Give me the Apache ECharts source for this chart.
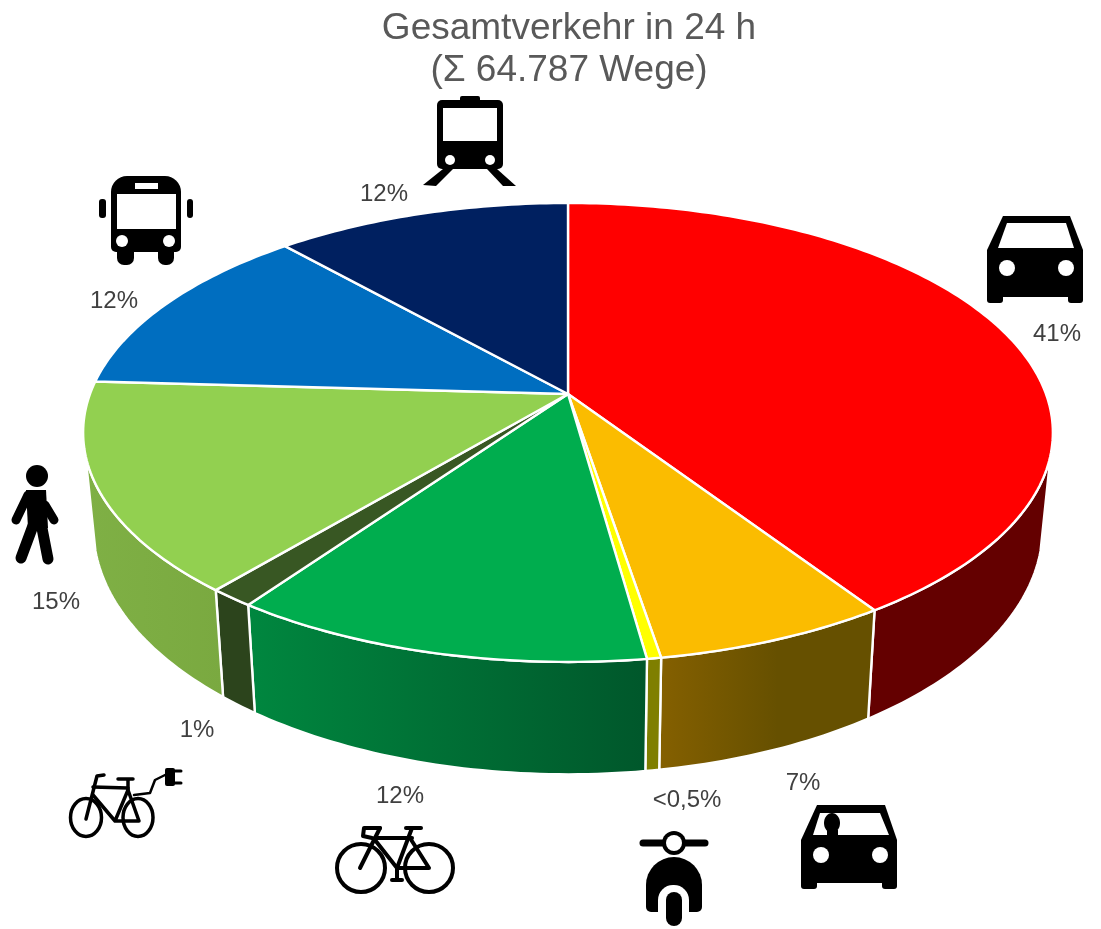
<!DOCTYPE html>
<html><head><meta charset="utf-8">
<style>html,body{margin:0;padding:0;background:#fff}#c{width:1101px;height:929px}</style>
<script src="https://cdn.jsdelivr.net/npm/echarts@6/dist/echarts.min.js"></script>
</head><body><div id="c"></div>
<script>
// ---- data ----
const categories = ['Pkw Mitfahrer-frei','Pkw Mitfahrer','Motorrad','Fahrrad','Pedelec','Zu Fuß','Bus','Bahn'];
const shares = [40.7, 6.7, 0.4, 12.0, 1.3, 14.8, 12.5, 11.6];
const shareLabels = ['41%','7%','<0,5%','12%','1%','15%','12%','12%'];
const titleLines = ['Gesamtverkehr in 24 h','(Σ 64.787 Wege)'];
// ---- style ----
const topColors = ['#FF0000','#FBBC00','#FFFF00','#00AD4E','#385723','#92D050','#006EC0','#002060'];
const sideColors = [['#640000','#640000'],['#856000','#665000'],['#7f7f00','#7f7f00'],['#00873f','#00572b'],['#2c441c','#2c441c'],['#7fb045','#7aa940'],['#004a80','#004a80'],['#001540','#001540']];
const sideStops = [1,0.55,1,1,1,1,1,1];
const labelPos = [[1057,334],[803,783],[687,800],[400,796],[197,730],[56,602],[114,301],[384,194]];
// projected-disc geometry
const CX=568, TOP={A:478,B:223,ay:394}, BOT={A:468,B:240,ay:486}, E=0.1677, SIDE_FROM=105, SIDE_TO=255;
const rim=(g,deg)=>{const t=deg*Math.PI/180,s=Math.sin(t),c=Math.cos(t),d=1+E*c;return [CX+g.A*s/d,g.ay-g.B*c/d];};
const total=shares.reduce((a,b)=>a+b,0);
const span=i=>{let a=0;for(let k=0;k<i;k++)a+=shares[k];return [a/total*360,(a+shares[i])/total*360];};
const arc=(g,a,b)=>{const p=[];const n=Math.max(2,Math.ceil(Math.abs(b-a)));for(let k=0;k<=n;k++)p.push(rim(g,a+(b-a)*k/n));return p;};

function renderSide(params){
  const i=params.dataIndex;
  const [a0,b0]=span(i);const a=Math.max(a0,SIDE_FROM),b=Math.min(b0,SIDE_TO);
  if(b<=a)return {type:'group',children:[]};
  const cols=sideColors[i];
  return {type:'polygon',shape:{points:arc(TOP,a,b).concat(arc(BOT,b,a))},
    style:{fill:{type:'linear',x:0,y:0,x2:1,y2:0,colorStops:[{offset:0,color:cols[0]},{offset:sideStops[i],color:cols[1]},{offset:1,color:cols[1]}]},stroke:'#fff',lineWidth:2.4,lineJoin:'round'}};
}
function renderTop(params){
  const i=params.dataIndex;const [a,b]=span(i);
  return {type:'group',children:[
    {type:'polygon',shape:{points:[[CX,TOP.ay]].concat(arc(TOP,a,b))},style:{fill:topColors[i],stroke:'#fff',lineWidth:2.4,lineJoin:'round'}},
    {type:'text',style:{x:labelPos[i][0],y:labelPos[i][1],text:shareLabels[i],fill:'#404040',font:'24px "Liberation Sans", Arial, sans-serif',textAlign:'center',textVerticalAlign:'middle'},z2:10}
  ]};
}

// ---- pictograms ----
const K='#000',W='#fff';
const R=(x,y,x2,y2,r,f)=>({type:'rect',shape:{x,y,width:x2-x,height:y2-y,r:r||0},style:{fill:f||K}});
const C=(cx,cy,r,f)=>({type:'circle',shape:{cx,cy,r},style:{fill:f||K}});
const P=(pts,f)=>({type:'polygon',shape:{points:pts},style:{fill:f||K,lineJoin:'round'}});
const L=(pts,w)=>({type:'polyline',shape:{points:pts},style:{fill:null,stroke:K,lineWidth:w,lineCap:'round',lineJoin:'round'}});
const O=(cx,cy,r,w)=>({type:'circle',shape:{cx,cy,r},style:{fill:null,stroke:K,lineWidth:w}});
const OE=(cx,cy,rx,ry,w)=>({type:'ellipse',shape:{cx,cy,rx,ry},style:{fill:null,stroke:K,lineWidth:w}});

const train=[R(460,96,480,103,2),R(437,100,503,169,5),R(443,108,497,141,0,W),C(450,160,5,W),C(490,160,5,W),
  P([[443,169],[423,185],[436,186],[453,169]]),P([[497,169],[516,186],[503,186],[487,169]])];
const bus=[R(111,176,181,252,[16,16,5,5]),R(117,240,134,265,[0,0,7,7]),R(158,240,174,265,[0,0,7,7]),
  R(117,194,176,229,0,W),R(135,183,158,189,0,W),C(122,241,6,W),C(169,241,6,W),R(99,199,106,218,3),R(187,199,193,218,3)];
const car=[P([[1003,216],[1070,216],[1083,250],[1083,297],[987,297],[987,250]]),
  R(987,285,1003,303,3),R(1068,285,1083,303,3),P([[1007,223],[1066,223],[1074,248],[998,248]],W),C(1007,268,8,W),C(1066,268,8,W)];
const walker=[C(37,476,11),P([[26,490],[46,490],[48,528],[28,528]]),L([[28,495],[16,520]],9),L([[45,505],[54,520]],9),L([[34,523],[21,558]],11),L([[41,523],[48,559]],11)];
const ebike=[OE(86,817.5,15.5,19,3.5),OE(138,817.5,15,19,3.5),
  L([[104,775],[97,776],[86,819]],3.5),L([[93,787],[128,788]],3.5),L([[93,795],[115,821],[139,821],[128,790],[115,821]],3.5),L([[118,779],[133,779]],3.5),L([[128,780],[128,790]],3.5),
  L([[134,795],[150,793],[155,780],[165,775]],2.5),R(165,768,175,786,2),L([[175,771],[181,771]],3),L([[175,783],[181,783]],3)];
const bike=[O(361,868,24,4),O(429,868,24,4),
  L([[380,828],[364,828],[363,836],[372,838]],4),L([[380,828],[360,868]],4),L([[375,838],[412,838]],4),
  L([[406,828],[421,828]],4),L([[412,828],[397,868]],4),L([[375,840],[397,868],[429,868],[410,838]],4),
  L([[397,868],[397,880]],4),L([[392,880],[402,880]],4)];
const scooter=[L([[643,843],[705,843]],7),C(674,843,12),C(674,843,8,W),
  R(646,857,702,912,[28,28,5,5]),
  R(658,885,689,925,[15,15,0,0],W),R(666,892,682,926,8)];
const driverCar=[P([[817,805],[885,805],[897,840],[897,883],[801,883],[801,840]]),
  R(801,875,817,889,3),R(882,875,897,889,3),P([[820,813],[880,813],[889,835],[813,835]],W),
  {type:'ellipse',shape:{cx:832,cy:823,rx:8,ry:10},style:{fill:K}},R(827,830,838,836),C(821,855,8,W),C(880,855,8,W)];

const chart=echarts.init(document.getElementById('c'),null,{renderer:'canvas'});
chart.setOption({
  animation:false,
  backgroundColor:'#fff',
  title:{text:titleLines.join('\n'),left:564,top:3,textAlign:'center',
    textStyle:{color:'#595959',fontFamily:'"Liberation Sans", Arial, sans-serif',fontSize:37,fontWeight:'normal',lineHeight:42}},
  series:[
    {type:'custom',name:'Seiten',coordinateSystem:'none',z:1,silent:true,renderItem:renderSide,data:shares.map((v,i)=>({name:categories[i],value:[v]}))},
    {type:'custom',name:'Anteile',coordinateSystem:'none',z:2,silent:true,renderItem:renderTop,data:shares.map((v,i)=>({name:categories[i],value:[v]}))}
  ],
  graphic:{elements:[{type:'group',z:5,silent:true,children:[].concat(train,bus,car,walker,ebike,bike,scooter,driverCar)}]}
});
</script></body></html>
